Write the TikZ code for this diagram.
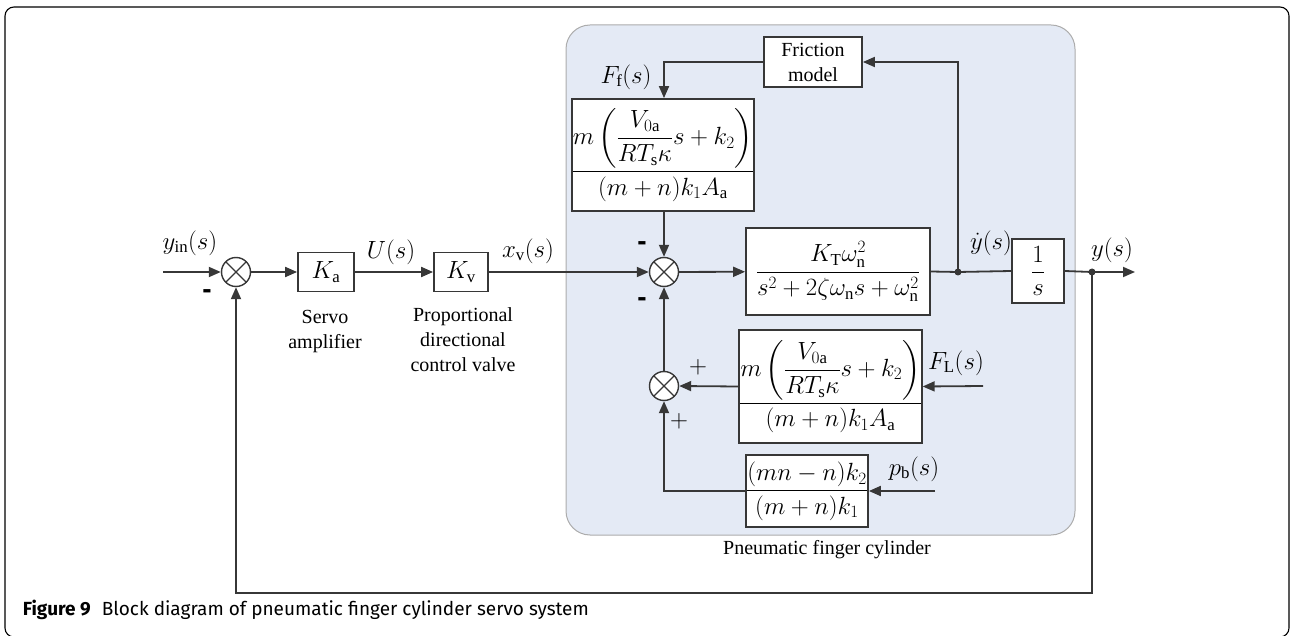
\documentclass[tikz,border=0pt]{standalone}
\usepackage{amsmath}
\usepackage{fontspec}
\setmainfont{Liberation Serif}
\setsansfont{Liberation Sans}
\newfontfamily\capfont{Fira Sans}
\usetikzlibrary{arrows.meta}
\definecolor{lnclr}{RGB}{55,55,55}
\definecolor{panelclr}{RGB}{228,234,245}
\tikzset{
  blk/.style={draw=lnclr, fill=white, line width=1.8pt, inner sep=0pt},
  sumjn/.style={circle, draw=lnclr, fill=white, line width=1.4pt, minimum size=29pt, inner sep=0pt,
    path picture={\draw[lnclr, line width=1.3pt]
      (path picture bounding box.north west) -- (path picture bounding box.south east)
      (path picture bounding box.south west) -- (path picture bounding box.north east);}},
  lbl/.style={font=\fontsize{24}{28}\selectfont, inner sep=0pt},
  note/.style={font=\fontsize{20}{25}\selectfont, align=center, inner sep=0pt},
  dot/.style={circle, fill=lnclr, inner sep=0pt, minimum size=7pt},
  minus/.style={font=\sffamily\bfseries\fontsize{28}{28}\selectfont, inner sep=0pt},
  plus/.style={font=\fontsize{30}{30}\selectfont, inner sep=0pt}
}
\newcommand{\pfrac}{$\dfrac{m\left(\dfrac{V_{0\mathrm{a}}}{RT_{\mathrm{s}}\kappa}s+k_2\right)}{(m+n)k_1A_{\mathrm{a}}}$}
\begin{document}
\begin{tikzpicture}[x=1pt,y=-1pt, line width=1.8pt, >={Triangle[length=12pt,width=10pt]}]
\useasboundingbox (0,0) rectangle (1290,636);
% outer frame and cylinder panel
\draw[black, line width=1.1pt, rounded corners=9pt] (5,7) rectangle (1289,637);
\draw[fill=panelclr, draw=gray!65, line width=1pt, rounded corners=24pt] (566,25) rectangle (1075,535);
\node[note] (cyl) at (827,550) {Pneumatic finger cylinder};

% forward path
\coordinate (yin) at (163,272);
\node[sumjn] (sum1) at (236,272) {};
\node[blk, minimum width=56pt, minimum height=39pt, lbl] (ka) at (326,272) {$K_{\mathrm{a}}$};
\node[blk, minimum width=54pt, minimum height=39pt, lbl] (kv) at (461,272) {$K_{\mathrm{v}}$};
\node[sumjn] (sum2) at (664,272) {};
\node[blk, minimum width=184pt, minimum height=87pt, lbl] (plant) at (838,271.5)
  {$\dfrac{K_{\mathrm{T}}\omega_{\mathrm{n}}^2}{s^2+2\zeta\omega_{\mathrm{n}}s+\omega_{\mathrm{n}}^2}$};
\coordinate (ydot) at (958,272);
\node[blk, minimum width=52pt, minimum height=64pt, lbl] (integ) at (1038,271) {$\dfrac{1}{s}$};
\coordinate (ybr) at (1092,272);
\coordinate (yout) at (1135,272);
\coordinate (fbk) at (660,593);

% friction loop
\node[blk, minimum width=98pt, minimum height=50pt, note] (fric) at (813,62) {Friction\\model};
\node[blk, minimum width=170pt, minimum height=112pt, lbl] (fblk) at (663,155) {\pfrac};

% disturbance inputs
\node[sumjn] (sum3) at (664,386) {};
\node[blk, minimum width=169pt, minimum height=113pt, lbl] (loadblk) at (830.5,386.5) {\pfrac};
\node[blk, minimum width=120pt, minimum height=72pt, lbl] (pbblk) at (807,491)
  {$\dfrac{(mn-n)k_2}{(m+n)k_1}$};
\coordinate (fl) at (983,386);
\coordinate (pb) at (935,491);

% labels
\node[lbl] (lyin) at (190,243) {$y_{\mathrm{in}}(s)$};
\node[lbl] (lu) at (391,252) {$U(s)$};
\node[lbl] (lxv) at (528,251) {$x_{\mathrm{v}}(s)$};
\node[lbl] (lff) at (626,77) {$F_{\mathrm{f}}(s)$};
\node[lbl] (lyd) at (991,243) {\fontsize{23}{26}\selectfont$\dot{y}(s)$};
\node[lbl] (ly) at (1112,250) {$y(s)$};
\node[lbl] (lfl) at (956,363) {$F_{\mathrm{L}}(s)$};
\node[lbl] (lpb) at (914,469) {$p_{\mathrm{b}}(s)$};
\node[note] (servo) at (325,332) {Servo\\amplifier};
\node[note] (valve) at (463,340) {Proportional\\directional\\control valve};

% signs
\node[minus] (m1) at (207,294) {-};
\node[minus] (m2) at (642,246) {-};
\node[minus] (m3) at (642,302) {-};
\node[plus] (p1) at (698,367) {$+$};
\node[plus] (p2) at (679,421) {$+$};

% connectors
\draw[lnclr, ->] (yin) -- (sum1.west);
\draw[lnclr, ->] (sum1) -- (ka);
\draw[lnclr, ->] (ka) -- (kv);
\draw[lnclr, ->] (kv) -- (sum2.west);
\draw[lnclr, ->] (sum2) -- (plant);
\draw[lnclr] (plant.east) -- (ydot) -- (integ.west);
\draw[lnclr, ->] (integ.east) -- (ybr) -- (yout);
\draw[lnclr, ->] (ydot) |- (fric.east);
\draw[lnclr, ->] (fric.west) -| (sum2 |- fblk.north);
\draw[lnclr, ->] (sum2 |- fblk.south) -- (sum2.north);
\draw[lnclr, ->] (sum3.north) -- (sum2.south);
\draw[lnclr, ->] (fl) -- (loadblk.east);
\draw[lnclr, ->] (loadblk.west) -- (sum3.east);
\draw[lnclr, ->] (pb) -- (pbblk.east);
\draw[lnclr, ->] (pbblk.west) -| (sum3.south);
\draw[lnclr, ->] (ybr) |- (fbk) -| (sum1.south);
\node[dot] at (ydot) {};
\node[dot] at (ybr) {};

% caption
\node[anchor=base west, inner sep=0pt, font=\capfont\fontsize{19}{22}\selectfont] (cap) at (22,615)
  {\textbf{Figure 9}\hspace{11pt}Block diagram of pneumatic finger cylinder servo system};
\end{tikzpicture}
\end{document}
